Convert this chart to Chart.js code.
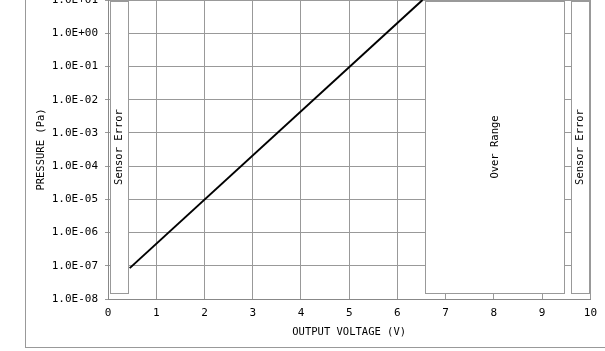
<!DOCTYPE html>
<html>
<head>
<meta charset="utf-8">
<title>Pressure vs Output Voltage</title>
<script src="https://cdn.jsdelivr.net/npm/chart.js"></script>
<style>
  body { margin: 0; width: 605px; height: 351px; overflow: hidden; background: #fff; position: relative; }
  .frame { position: absolute; left: 25px; top: -10px; width: 600px; height: 358px; box-sizing: border-box; border: 1px solid #999; }
  canvas { position: absolute; left: 0; top: -20px; }
</style>
</head>
<body>
<div class="frame"></div>
<canvas id="chart" width="605" height="371"></canvas>
<script>
// axis ticks
const xTicks = [0, 1, 2, 3, 4, 5, 6, 7, 8, 9, 10];
const yTicks = [1e-8, 1e-7, 1e-6, 1e-5, 1e-4, 1e-3, 1e-2, 1e-1, 1e0, 1e1];
const yTickLabels = ['1.0E-08', '1.0E-07', '1.0E-06', '1.0E-05', '1.0E-04',
  '1.0E-03', '1.0E-02', '1.0E-01', '1.0E+00', '1.0E+01'];

// characteristic line (V, Pa)
const lineVoltage = [0.45, 6.52];
const linePressure = [8.5e-8, 10];

// shaded zones
const zoneLabels = ['Sensor Error', 'Over Range', 'Sensor Error'];
const zoneStart = [0.04, 6.58, 9.59];
const zoneEnd = [0.43, 9.48, 10];
const zoneBottom = 1.5e-8;
const zoneTop = 9.3;

const font = { family: "'DejaVu Sans Mono', monospace", size: 11 };
const smallFont = { family: "'DejaVu Sans Mono', monospace", size: 10.5 };

const zonePlugin = {
  id: 'zones',
  beforeDatasetsDraw(chart) {
    const { ctx, scales: { x, y } } = chart;
    ctx.save();
    zoneLabels.forEach((label, i) => {
      const left = Math.round(x.getPixelForValue(zoneStart[i]));
      const right = Math.round(x.getPixelForValue(zoneEnd[i]));
      const top = Math.round(y.getPixelForValue(zoneTop));
      const bottom = Math.round(y.getPixelForValue(zoneBottom));
      ctx.fillStyle = '#fff';
      ctx.fillRect(left, top, right - left, bottom - top);
      ctx.strokeStyle = '#999';
      ctx.lineWidth = 1;
      ctx.strokeRect(left + 0.5, top + 0.5, right - left - 1, bottom - top);
      ctx.save();
      ctx.translate((left + right) / 2, (top + bottom) / 2);
      ctx.rotate(-Math.PI / 2);
      ctx.fillStyle = '#000';
      ctx.font = smallFont.size + 'px ' + smallFont.family;
      ctx.textAlign = 'center';
      ctx.textBaseline = 'middle';
      ctx.fillText(label, 0, 0);
      ctx.restore();
    });
    ctx.restore();
  }
};

new Chart(document.getElementById('chart').getContext('2d'), {
  type: 'line',
  data: {
    datasets: [{
      data: lineVoltage.map((v, i) => ({ x: v, y: linePressure[i] })),
      borderColor: '#000',
      borderWidth: 2,
      pointRadius: 0,
      fill: false
    }]
  },
  options: {
    responsive: false,
    animation: false,
    layout: { padding: { top: 20, right: 14, left: 0, bottom: 0 } },
    plugins: { legend: { display: false }, tooltip: { enabled: false } },
    scales: {
      x: {
        type: 'linear',
        min: 0,
        max: 10,
        afterBuildTicks: s => { s.ticks = xTicks.map(v => ({ value: v })); },
        afterFit: s => { s.height = 52; },
        grid: { color: '#999', drawTicks: false },
        border: { color: '#888' },
        ticks: { padding: 8, color: '#000', font: font, autoSkip: false, maxRotation: 0,
          callback: v => String(v) },
        title: { display: true, text: 'OUTPUT VOLTAGE (V)', color: '#000', font: smallFont,
          padding: { top: 0, bottom: 12 } }
      },
      y: {
        type: 'logarithmic',
        min: 1e-8,
        max: 10,
        afterBuildTicks: s => { s.ticks = yTicks.map(v => ({ value: v })); },
        afterFit: s => { s.width = 108; },
        grid: { color: '#999', tickLength: 3 },
        border: { color: '#888' },
        ticks: { padding: 7, color: '#000', font: font, autoSkip: false,
          callback: (v, i) => yTickLabels[i] },
        title: { display: true, text: 'PRESSURE (Pa)', color: '#000', font: smallFont,
          padding: { top: 35, bottom: 0 } }
      }
    }
  },
  plugins: [zonePlugin]
});
</script>
</body>
</html>
